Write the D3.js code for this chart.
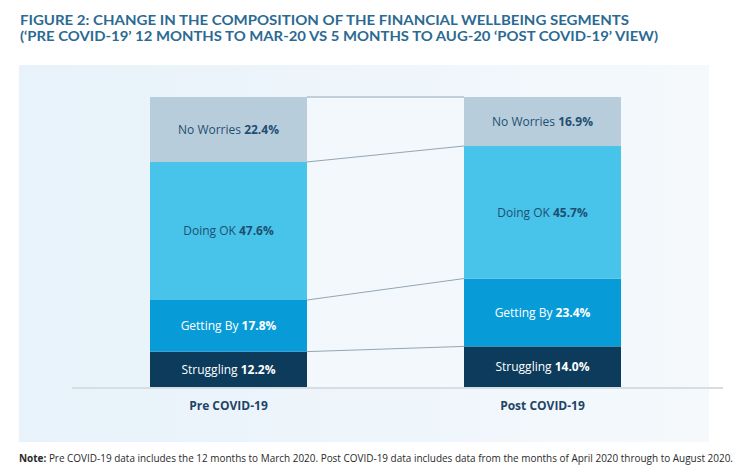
<!DOCTYPE html>
<html><head><meta charset="utf-8">
<script src="https://cdn.jsdelivr.net/npm/d3@7"></script>
<style>
html,body{margin:0;padding:0;background:#fff;}
svg{display:block;}
</style></head>
<body>
<svg id="chart" width="742" height="473"></svg>
<script>
const categories = ["Pre COVID-19", "Post COVID-19"];
const segments = ["Struggling", "Getting By", "Doing OK", "No Worries"];
const struggling = [12.2, 14.0];
const gettingBy = [17.8, 23.4];
const doingOK = [47.6, 45.7];
const noWorries = [22.4, 16.9];
const segColors = ["#0c3b5c", "#079bd8", "#48c4ea", "#b8cddb"];
const textColors = ["#ffffff", "#ffffff", "#1e4f72", "#1e4f72"];

const svg = d3.select("#chart");
const defs = svg.append("defs");
const grad = defs.append("linearGradient").attr("id","bg").attr("x1","0").attr("x2","1").attr("y1","0").attr("y2","0");
grad.append("stop").attr("offset","0").attr("stop-color","#e7f2fa");
grad.append("stop").attr("offset","1").attr("stop-color","#f5f9fc");

// title
const title = svg.append("g").attr("font-family","Lato, 'Open Sans', sans-serif").attr("font-weight","700").attr("fill","#2b6a92").attr("font-size","13.5px");
title.append("text").attr("x",20).attr("y",25).attr("textLength",609).attr("lengthAdjust","spacingAndGlyphs").text("FIGURE 2: CHANGE IN THE COMPOSITION OF THE FINANCIAL WELLBEING SEGMENTS");
title.append("text").attr("x",20).attr("y",41).attr("textLength",638).attr("lengthAdjust","spacingAndGlyphs").text("(\u2018PRE COVID-19\u2019 12 MONTHS TO MAR-20 VS 5 MONTHS TO AUG-20 \u2018POST COVID-19\u2019 VIEW)");

// panel
svg.append("rect").attr("x",19).attr("y",65).attr("width",690).attr("height",377).attr("fill","url(#bg)");

const table = categories.map((c,i)=>({cat:c, "Struggling":struggling[i], "Getting By":gettingBy[i], "Doing OK":doingOK[i], "No Worries":noWorries[i]}));
const stacked = d3.stack().keys(segments)(table);

const x = d3.scalePoint().domain(categories).range([228.5, 542.5]);
const bw = 157;
const y = d3.scaleLinear().domain([0,100]).range([387, 97]);

// middle lighter area
svg.append("rect").attr("x", x(categories[0])+bw/2).attr("y", y(100)).attr("width", x(categories[1])-x(categories[0])-bw).attr("height", y(0)-y(100)).attr("fill","#f3f8fc");

// baseline
svg.append("line").attr("x1",72).attr("x2",723).attr("y1",y(0)+1).attr("y2",y(0)+1).attr("stroke","#d6dee4").attr("stroke-width",2);

// connector lines
const connectorLevels = stacked.map((s,i)=>[stacked[i][0][1], stacked[i][1][1]]);
svg.append("g").selectAll("line").data(connectorLevels).join("line")
  .attr("x1", x(categories[0])+bw/2).attr("x2", x(categories[1])-bw/2)
  .attr("y1", d=>y(d[0])).attr("y2", d=>y(d[1]))
  .attr("stroke","#93a6b3").attr("stroke-width",1);

// bars
const layers = svg.append("g").selectAll("g").data(stacked).join("g").attr("fill",(d,i)=>segColors[i]);
layers.selectAll("rect").data(d=>d).join("rect")
  .attr("x", d=>x(d.data.cat)-bw/2).attr("width", bw)
  .attr("y", d=>y(d[1])).attr("height", d=>y(d[0])-y(d[1]));

// labels
stacked.forEach((s,i)=>{
  s.forEach(d=>{
    const t = svg.append("text").attr("x", x(d.data.cat)).attr("y", (y(d[0])+y(d[1]))/2+4.5)
      .attr("text-anchor","middle").attr("font-family","'Open Sans', sans-serif").attr("font-size","12px").attr("fill",textColors[i]);
    t.append("tspan").text(s.key+" ");
    t.append("tspan").attr("font-weight","700").text((d[1]-d[0]).toFixed(1)+"%");
  });
});

// category labels
svg.append("g").selectAll("text").data(categories).join("text")
  .attr("x", d=>x(d)).attr("y", 410).attr("text-anchor","middle")
  .attr("font-family","'Open Sans', sans-serif").attr("font-weight","700").attr("font-size","12px").attr("fill","#1e4466")
  .text(d=>d);

// note
const note = svg.append("text").attr("x",19).attr("y",462).attr("font-family","'Open Sans', sans-serif").attr("font-size","10px").attr("fill","#2a2a2a")
  .attr("textLength",714).attr("lengthAdjust","spacingAndGlyphs");
note.append("tspan").attr("font-weight","700").text("Note: ");
note.append("tspan").text("Pre COVID-19 data includes the 12 months to March 2020. Post COVID-19 data includes data from the months of April 2020 through to August 2020.");
</script>
</body></html>
